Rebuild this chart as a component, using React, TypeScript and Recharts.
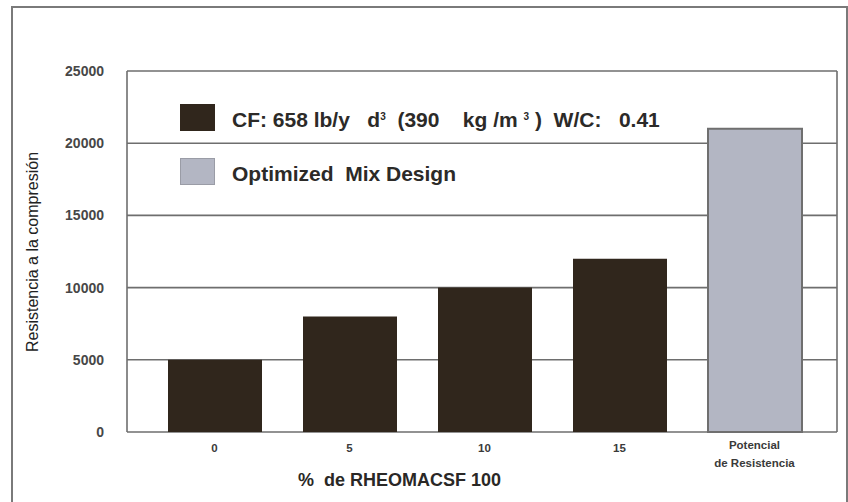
import React from 'react';
import { BarChart, Bar, Cell, XAxis, YAxis, CartesianGrid } from 'recharts';

// % de RHEOMAC SF 100 categories and compressive strength values
const categories = ['0', '5', '10', '15', 'Potencial\nde Resistencia'];
const strength = [5000, 8000, 10000, 12000, 21000];
const yTicks = [0, 5000, 10000, 15000, 20000, 25000];

const DARK = '#30261c';
const LIGHT = '#b3b6c3';

const data = categories.map((name, i) => ({ name, value: strength[i] }));

const XTick = (props: any) => {
  const { x, y, payload } = props;
  const lines = String(payload.value).split('\n');
  return (
    <text x={x} y={y} textAnchor="middle" fill="#3a3a3a" fontSize={11.5} fontWeight="bold"
      fontFamily="Liberation Sans, Arial, sans-serif">
      {lines.map((l, i) => (
        <tspan key={i} x={x} dy={i === 0 ? (lines.length > 1 ? -3 : 0) : 18}>{l}</tspan>
      ))}
    </text>
  );
};

const LegendBox = () => {
  const row: React.CSSProperties = { display: 'flex', alignItems: 'center', height: 27, marginBottom: 27 };
  const sw = (c: string, border?: string): React.CSSProperties => ({
    width: 35, height: 27, background: c, marginRight: 17, boxSizing: 'border-box',
    border: border ? `1px solid ${border}` : 'none', flex: 'none',
  });
  const txt: React.CSSProperties = {
    fontFamily: 'Liberation Sans, Arial, sans-serif', fontWeight: 'bold', fontSize: 21,
    color: '#2c2a28', whiteSpace: 'pre', lineHeight: '27px', position: 'relative', top: 2,
  };
  const sup: React.CSSProperties = { fontSize: 10, verticalAlign: 'top', position: 'relative', top: -3 };
  return (
    <div style={{ position: 'absolute', left: 180, top: 104, pointerEvents: 'none' }}>
      <div style={row}>
        <div style={sw(DARK)} />
        <span style={txt}>
          CF: 658 lb/y   d<span style={sup}>3</span>  (390    kg /m <span style={sup}>3</span> )  W/C:   0.41
        </span>
      </div>
      <div style={row}>
        <div style={sw(LIGHT, '#9a9ca6')} />
        <span style={txt}>Optimized  Mix Design</span>
      </div>
    </div>
  );
};

export default function App() {
  return (
    <div style={{ position: 'absolute', left: 0, top: 0, width: 848, height: 502, background: '#fff', overflow: 'hidden' }}>
      <BarChart width={848} height={502} data={data}
        margin={{ top: 71, right: 11, bottom: 40, left: 67 }}>
        <CartesianGrid stroke="#6e6e6e" strokeWidth={1.6}
          verticalCoordinatesGenerator={({ offset }: any) => [offset.left, offset.left + offset.width]} />
        <XAxis dataKey="name" axisLine={false} tickLine={false} interval={0} height={30}
          padding={{ left: 20, right: 15 }} tick={<XTick />} tickMargin={14}
          label={{
            value: '%  de RHEOMACSF 100',
            content: ({ viewBox }: any) => (
              <text x={298} y={viewBox.y + 54} fill="#2a2826" fontSize={18} fontWeight="bold"
                fontFamily="Liberation Sans, Arial, sans-serif" style={{ whiteSpace: 'pre' }}>
                {'%  de RHEOMACSF 100'}
              </text>
            ),
          }} />
        <YAxis width={60} domain={[0, 25000]} ticks={yTicks} axisLine={false} tickLine={false}
          tickSize={0} tickMargin={23}
          tick={{ fill: '#474747', fontSize: 14, fontWeight: 'bold', fontFamily: 'Liberation Sans, Arial, sans-serif' }}
          label={{
            value: 'Resistencia a la compresión',
            content: () => (
              <text x={0} y={0} transform="translate(38, 252) rotate(-90)" textAnchor="middle"
                fill="#222" fontSize={16} fontFamily="Liberation Sans, Arial, sans-serif">
                Resistencia a la compresión
              </text>
            ),
          }} />
        <Bar dataKey="value" barSize={94} isAnimationActive={false}>
          {data.map((d, i) => (
            <Cell key={d.name} fill={i === 4 ? LIGHT : DARK} stroke={i === 4 ? '#6f6f6f' : DARK} strokeWidth={i === 4 ? 2 : 0} />
          ))}
        </Bar>
      </BarChart>
      <LegendBox />
      <div style={{
        position: 'absolute', left: 11, top: 6, width: 837, height: 520,
        border: '2px solid #7a7a7a', boxSizing: 'border-box', pointerEvents: 'none',
      }} />
    </div>
  );
}
